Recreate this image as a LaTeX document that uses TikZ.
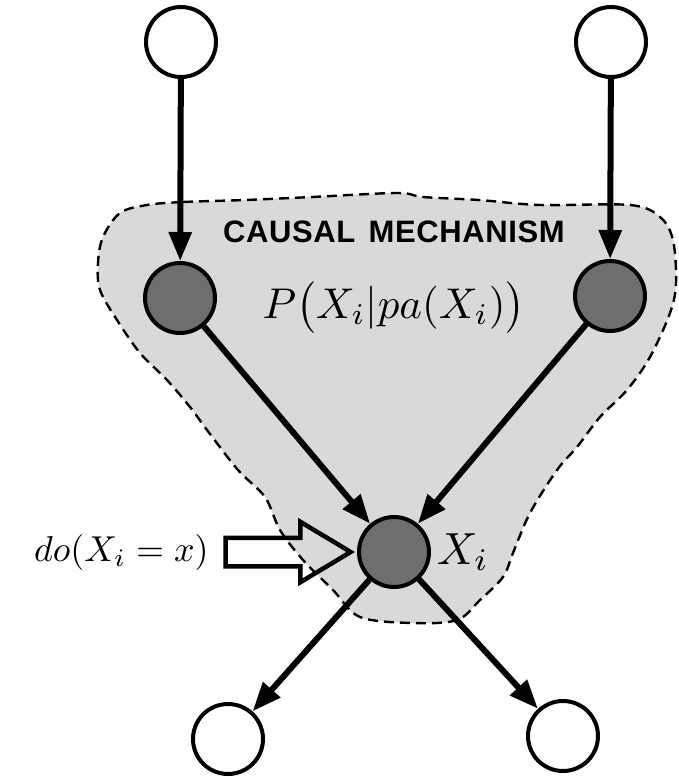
\documentclass[tikz,border=0pt]{standalone}
\usepackage{fontspec}
\newfontfamily\capsfont[LetterSpace=2]{Liberation Sans}
\usepackage{tikz}
\usetikzlibrary{arrows.meta, positioning, shapes.arrows}
\definecolor{mechgray}{RGB}{217, 217, 217}
\definecolor{nodegray}{RGB}{110, 110, 110}

\begin{document}
\begin{tikzpicture}[
    x=1pt, y=-1pt,
    node distance=16pt,
    var/.style={circle, draw, line width=4pt, minimum size=70pt,
                inner sep=0pt, fill=white},
    mech/.style={var, fill=nodegray},
    edge/.style={line width=6pt, -{Triangle[length=29pt, width=22pt]}},
    region/.style={draw, dash pattern=on 10pt off 6pt, line width=2.4pt, fill=mechgray},
    intervene/.style={single arrow, draw, line width=4.5pt, minimum height=125pt,
                      inner sep=12pt, single arrow head extend=16pt,
                      single arrow tip angle=62},
    mathlabel/.style={inner sep=0pt, font=\normalsize}
]
    \useasboundingbox (0,0) rectangle (679,777);

    \draw[region] plot[smooth cycle, tension=0.55] coordinates {
        (147,205) (183,202) (245,200) (312,197) (397,193) (423,197) (479,200)
        (540,205) (630,205) (660,217) (673,240) (676,283) (670,313) (650,357)
        (627,390) (600,417) (577,447) (557,470) (530,513) (513,553) (503,577)
        (480,600) (457,620) (413,623) (360,617) (333,590) (303,560) (280,530)
        (265,497) (238,470) (207,430) (190,407) (167,380) (140,353) (117,320)
        (100,290) (98,263) (103,237) (120,213)};

    \node[var] (topleft) at (181,42) {};
    \node[var] (topright) at (611,42) {};
    \node[mech] (parleft) at (180,298) {};
    \node[mech] (parright) at (610,296) {};
    \node[mech] (xi) at (394,552) {};
    \node[var] (childleft) at (228,739) {};
    \node[var] (childright) at (563,736) {};

    \node[inner sep=0pt, font=\capsfont\bfseries\fontsize{31}{36}\selectfont] (mechtitle) at (394,232) {CAUSAL\hspace{4pt} MECHANISM};
    \node[mathlabel, scale=4.3, anchor=base] (cpd) at (394,318) {$P\big(X_i|pa(X_i)\big)$};
    \node[mathlabel, scale=4.5, right=5pt of xi] (xilabel) {$X_i$};

    \node[intervene, anchor=tip] (push) at ([xshift=-2pt]xi.west) {};
    \node[mathlabel, scale=3.6, left=14pt of push] (dolabel) {$do(X_i = x)$};

    \draw[edge] (topleft) -- (parleft);
    \draw[edge] (topright) -- (parright);
    \draw[edge] (parleft) -- (xi);
    \draw[edge] (parright) -- (xi);
    \draw[edge] (xi) -- (childleft);
    \draw[edge] (xi) -- (childright);
\end{tikzpicture}
\end{document}
